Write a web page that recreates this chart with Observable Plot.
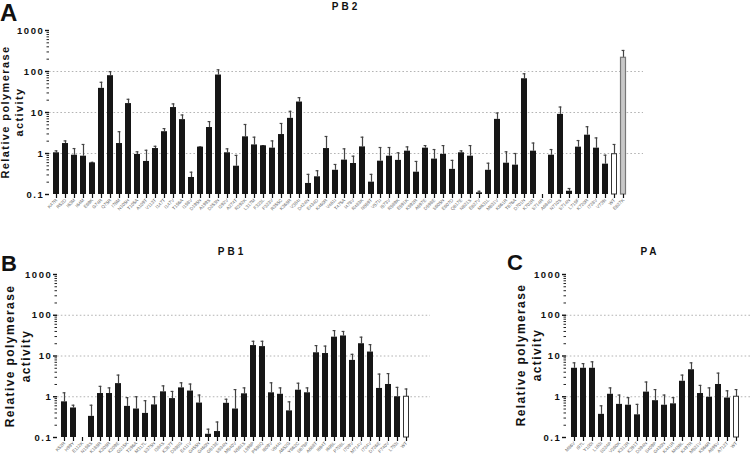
<!DOCTYPE html>
<html><head><meta charset="utf-8">
<script src="https://cdn.jsdelivr.net/npm/d3@7"></script>
<script src="https://cdn.jsdelivr.net/npm/@observablehq/plot@0.6"></script>
<style>
body{margin:0;background:#fff;}
#root{position:relative;width:750px;height:461px;overflow:hidden;font-family:"Liberation Sans",Arial,sans-serif;color:#111;}
.panel{position:absolute;}
.letter{position:absolute;font-weight:bold;line-height:1;}
.title{position:absolute;font-weight:bold;font-size:10px;letter-spacing:3px;line-height:1;transform:translateX(-50%);white-space:nowrap;}
.ylab{position:absolute;font-weight:bold;font-size:11px;letter-spacing:1.4px;white-space:nowrap;transform:translate(-50%,-50%) rotate(-90deg);line-height:14px;text-align:center;}
g[aria-label="y-axis tick label"] text{letter-spacing:1.6px;}
</style>
</head><body><div id="root"></div>
<script>
// ---------- data ----------
const pb2Labels = ["K47R","R52D","I63M","I64M","E69K","G74R","Q75R","I76M","N105H","T105A","A109T","V113T","I147T","I147V","T156A","I158V","D195N","A199S","D253N","I292V","A274T","R292K","L317M","F323L","F323V","R355C","K368R","V384I","D424N","E434D","K460R","V461I","T475A","I478V","R483K","N559T","V571I","I573V","R589K","E591K","K592R","A597E","D598E","S605N","E607D","Q617E","N621S","E627V","M631L","M631V","K661R","T676A","D701N","K702R","S714R","A684D","N710S","S714N","L715F","K720R","I728V","V739I","WT","E627K"];
const pb2Values = [1.04,1.75,0.91,0.86,0.59,38.8,79,1.75,16.5,0.95,0.64,1.32,3.4,13.2,6.7,0.26,1.43,4.3,82,1.04,0.49,2.55,1.62,1.54,1.35,2.9,7.2,18,0.186,0.27,1.32,0.39,0.69,0.57,1.45,0.2,0.65,0.86,0.68,1.14,0.35,1.35,0.73,0.95,0.41,1.04,0.86,0.11,0.39,6.8,0.58,0.52,66.5,1.14,null,0.91,9.0,0.12,1.43,2.8,1.35,0.55,0.96,216];
const pb2Errors = [1.16,2.03,1.32,1.66,0.61,54.6,99,3.4,21,1.1,1.2,1.5,4.05,16.2,8.7,0.35,1.45,6,110,1.3,0.9,5.1,2.5,1.56,2.03,5.4,10.7,23,0.31,0.38,2.6,0.54,1.3,0.86,2.5,0.31,1.4,1.4,1.04,1.45,0.64,1.56,1.25,1.56,0.68,1.16,1.56,0.12,0.58,9.7,1.1,1.0,88,1.8,null,1.25,13.6,0.14,2.07,4.5,2.4,0.91,1.66,326];

const pb1Labels = ["K52R","H99Y","E112K","N158S","K188R","K208R","K209E","G215K","T296A","M317L","S375N","I384S","K387T","D398G","E411V","G455N","G460N","G513E","S534N","M540V","N561S","L598P","P598Q","I609V","V644I","A652G","Y662C","S678P","A688T","I694T","I695L","P708L","I709V","M714V","I724V","D726E","F740V","L753I","WT"];
const pb1Values = [0.75,0.53,null,0.33,1.2,1.2,2.1,0.58,0.5,0.39,0.63,1.32,0.9,1.65,1.38,0.7,0.12,0.14,0.69,0.5,1.18,18,17,1.25,1.15,0.45,1.45,1.25,12,11.5,29,31,7.8,20,12.5,1.6,2.0,1.0,1.0];
const pb1Errors = [1.25,0.62,null,0.62,1.8,1.65,3.4,0.95,1.0,0.8,1.0,1.85,1.35,2.2,2.05,1.1,0.16,0.24,0.87,1.5,1.65,23,23,2.2,1.65,0.75,2.15,1.65,18,17.5,42,40,11,29,19,3.6,3.7,1.7,1.55];

const paLabels = ["M86V","I97L","Y100I","L163I","S224P","V260K","K312R","K391T","D394N","S409P","G430N","K441R","M459L","K497R","M521V","K566R","A595V","A712T","WT"];
const paValues = [5,5,5,0.37,1.15,0.65,0.62,0.36,1.3,0.8,0.62,0.67,2.4,4.6,1.2,0.97,2.0,0.93,1.0];
const paErrors = [6.8,6.5,7.2,0.6,1.65,1.1,0.95,0.65,2.3,1.5,1.1,0.95,3.4,6.8,1.9,1.65,3.8,1.4,1.5];

const majorTicks = [0.1,1,10,100,1000];
const gridValues = [1,10,100];
const yDomain = [0.1,1000];
const wtLabel = "WT";
const controlLabel = "E627K";

// ---------- drawing ----------
const root = document.getElementById("root");
const minorTicks = [];
for (const d of [0.1,1,10,100]) for (let k=2;k<=9;k++) minorTicks.push(+(k*d).toPrecision(3));

function makePanel(cfg){
  const data = cfg.labels.map((label,i)=>({label, v:cfg.values[i], e:cfg.errors[i]}));
  const present = data.filter(d=>d.v!=null);
  const mut = present.filter(d=>d.label!==wtLabel && d.label!==controlLabel);
  const wt = present.filter(d=>d.label===wtLabel);
  const ctl = present.filter(d=>d.label===controlLabel);
  const chart = Plot.plot({
    width: cfg.width, height: cfg.height,
    marginLeft: cfg.mL, marginRight: cfg.mR, marginTop: cfg.mT, marginBottom: cfg.mB,
    style: {fontFamily: '"Liberation Sans", Arial, sans-serif', background: "transparent", overflow: "visible"},
    x: {type:"band", domain: cfg.labels, paddingInner: cfg.pi, paddingOuter: cfg.po, align: cfg.align, axis: null},
    y: {type:"log", domain: yDomain, axis: null},
    marks: [
      Plot.ruleY(gridValues, {stroke:"#b4b4b4", strokeDasharray:"1.6,2.2", strokeWidth:1}),
      Plot.ruleX(present, {x:"label", y1:"v", y2:"e", stroke:"#444", strokeWidth:1.2}),
      Plot.tickY(present, {x:"label", y:"e", stroke:"#444", strokeWidth:1.2, insetLeft:1.6, insetRight:1.6}),
      Plot.barY(mut, {x:"label", y1:yDomain[0], y2:"v", fill:"#161616"}),
      Plot.barY(wt, {x:"label", y1:yDomain[0], y2:"v", fill:"#ffffff", stroke:"#333", strokeWidth:1, insetLeft:0.5, insetRight:0.5}),
      Plot.barY(ctl, {x:"label", y1:yDomain[0], y2:"v", fill:"#c8c8c8", stroke:"#777", strokeWidth:1.2, insetLeft:0.5, insetRight:0.5}),
      Plot.axisY({ticks: minorTicks, tickSize: 2.5, tickFormat: ()=>"", stroke:"#222", strokeWidth:1}),
      Plot.axisY({ticks: majorTicks, tickSize: 4, tickPadding: 1, tickFormat: d=>String(d), fontSize: 9.5, fontWeight:"bold", fill:"#111", stroke:"#111", strokeWidth:1.4, line:true, label:null}),
      Plot.axisX({tickRotate:-45, tickSize:4, tickPadding:1, fontSize:4.6, fill:"#666", stroke:"#111", strokeWidth:1.2, line:true, label:null})
    ]
  });
  chart.style.position = "absolute";
  chart.style.left = cfg.left + "px";
  chart.style.top = cfg.top + "px";
  root.appendChild(chart);
}

function addText(cls, text, css){
  const d = document.createElement("div");
  d.className = cls;
  d.innerHTML = text;
  Object.assign(d.style, css);
  root.appendChild(d);
}

makePanel({labels:pb2Labels, values:pb2Values, errors:pb2Errors, left:0, top:0, width:750, height:232,
  mL:49, mR:107, mT:30, mB:38, pi:0.34, po:0.88, align:0.19});
makePanel({labels:pb1Labels, values:pb1Values, errors:pb1Errors, left:0, top:240, width:440, height:221,
  mL:57, mR:10, mT:34, mB:24, pi:0.32, po:0.65, align:0.18});
makePanel({labels:paLabels, values:paValues, errors:paErrors, left:440, top:240, width:310, height:221,
  mL:126, mR:0, mT:34, mB:24, pi:0.33, po:0.41, align:0.33});

addText("letter","A",{left:"0px",top:"1px",fontSize:"24px"});
addText("letter","B",{left:"1px",top:"253px",fontSize:"22px"});
addText("letter","C",{left:"507px",top:"252px",fontSize:"22px"});
addText("title","PB2",{left:"346px",top:"2px"});
addText("title","PB1",{left:"232px",top:"247px"});
addText("title","PA",{left:"650px",top:"247px"});
addText("ylab","Relative polymerase<br>activity",{left:"12px",top:"112px"});
addText("ylab","Relative polymerase<br>activity",{left:"18px",top:"356px",fontSize:"12px",lineHeight:"16px"});
addText("ylab","Relative polymerase<br>activity",{left:"529px",top:"355px",fontSize:"12px",lineHeight:"16px"});
</script>
</body></html>
